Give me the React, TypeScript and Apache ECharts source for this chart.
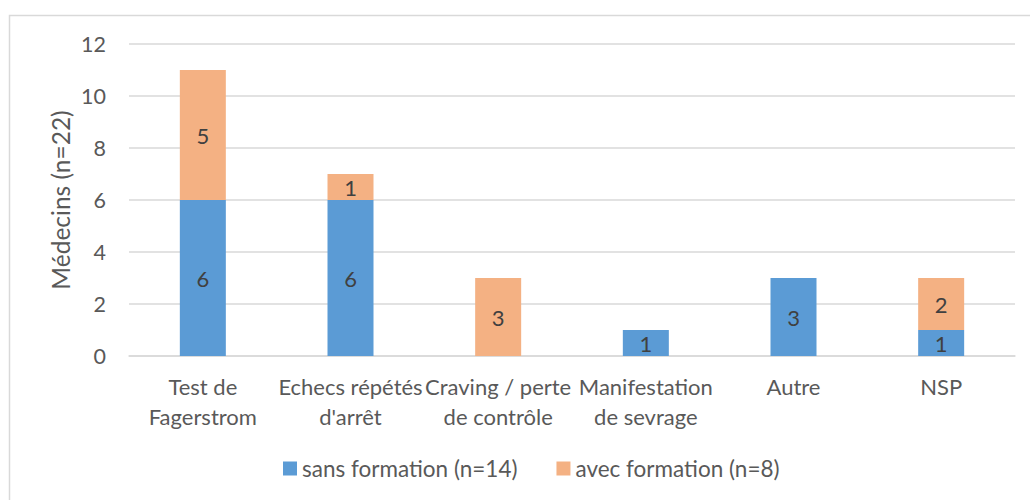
import React, { useEffect, useRef } from "react";
import * as echarts from "echarts";

const categories = [
  "Test de\nFagerstrom",
  "Echecs répétés\nd'arrêt",
  "Craving / perte\nde contrôle",
  "Manifestation\nde sevrage",
  "Autre",
  "NSP",
];
const sansFormation = [6, 6, 0, 1, 3, 1];
const avecFormation = [5, 1, 3, 0, 0, 2];
const seriesNames = ["sans formation (n=14)", "avec formation (n=8)"];
const yTitle = "Médecins (n=22)";

const FONT = "Lato";

export default function App() {
  const ref = useRef<HTMLDivElement>(null);
  useEffect(() => {
    document.body.style.margin = "0";
    const chart = echarts.init(ref.current!, null, { renderer: "svg" });
    const label = {
      show: true,
      position: "inside",
      color: "#404040",
      fontFamily: FONT,
      fontSize: 22,
      formatter: (p: any) => (p.value ? String(p.value) : ""),
    };
    chart.setOption({
      animation: false,
      backgroundColor: "#ffffff",
      textStyle: { fontFamily: FONT },
      grid: { left: 129, right: 15, top: 44, bottom: 144, containLabel: false },
      legend: {
        left: 278,
        top: 452,
        itemWidth: 14,
        itemHeight: 14,
        itemGap: 39,
        icon: "rect",
        textStyle: { color: "#595959", fontSize: 22.5, fontFamily: FONT },
        data: seriesNames,
      },
      xAxis: {
        type: "category",
        data: categories,
        axisLine: { show: true, lineStyle: { color: "#d9d9d9", width: 1.5 } },
        axisTick: { show: false },
        axisLabel: {
          interval: 0,
          color: "#595959",
          fontSize: 22,
          fontFamily: FONT,
          margin: 15,
          lineHeight: 30,
        },
      },
      yAxis: {
        type: "value",
        min: 0,
        max: 12,
        interval: 2,
        axisLine: { show: false },
        axisTick: { show: false },
        axisLabel: { color: "#595959", fontSize: 21.5, fontFamily: FONT, margin: 23 },
        splitLine: { lineStyle: { color: "#d9d9d9", width: 1.5 } },
      },
      graphic: [
        {
          type: "polyline",
          shape: { points: [[9.5, 500], [9.5, 15.5], [1030, 15.5]] },
          style: { stroke: "#d9d9d9", lineWidth: 1.5, fill: null },
          silent: true,
        },
        {
          type: "text",
          x: 60,
          y: 200,
          rotation: Math.PI / 2,
          style: {
            text: yTitle,
            fill: "#595959",
            fontSize: 24.5,
            fontFamily: FONT,
            align: "center",
            verticalAlign: "middle",
          },
        },
      ],
      series: [
        {
          name: seriesNames[0],
          type: "bar",
          stack: "total",
          barWidth: 46,
          data: sansFormation,
          itemStyle: { color: "#5B9BD5" },
          label,
        },
        {
          name: seriesNames[1],
          type: "bar",
          stack: "total",
          barWidth: 46,
          data: avecFormation,
          itemStyle: { color: "#F4B183" },
          label,
        },
      ],
    });
    return () => chart.dispose();
  }, []);
  return <div ref={ref} style={{ width: 1030, height: 500 }} />;
}
